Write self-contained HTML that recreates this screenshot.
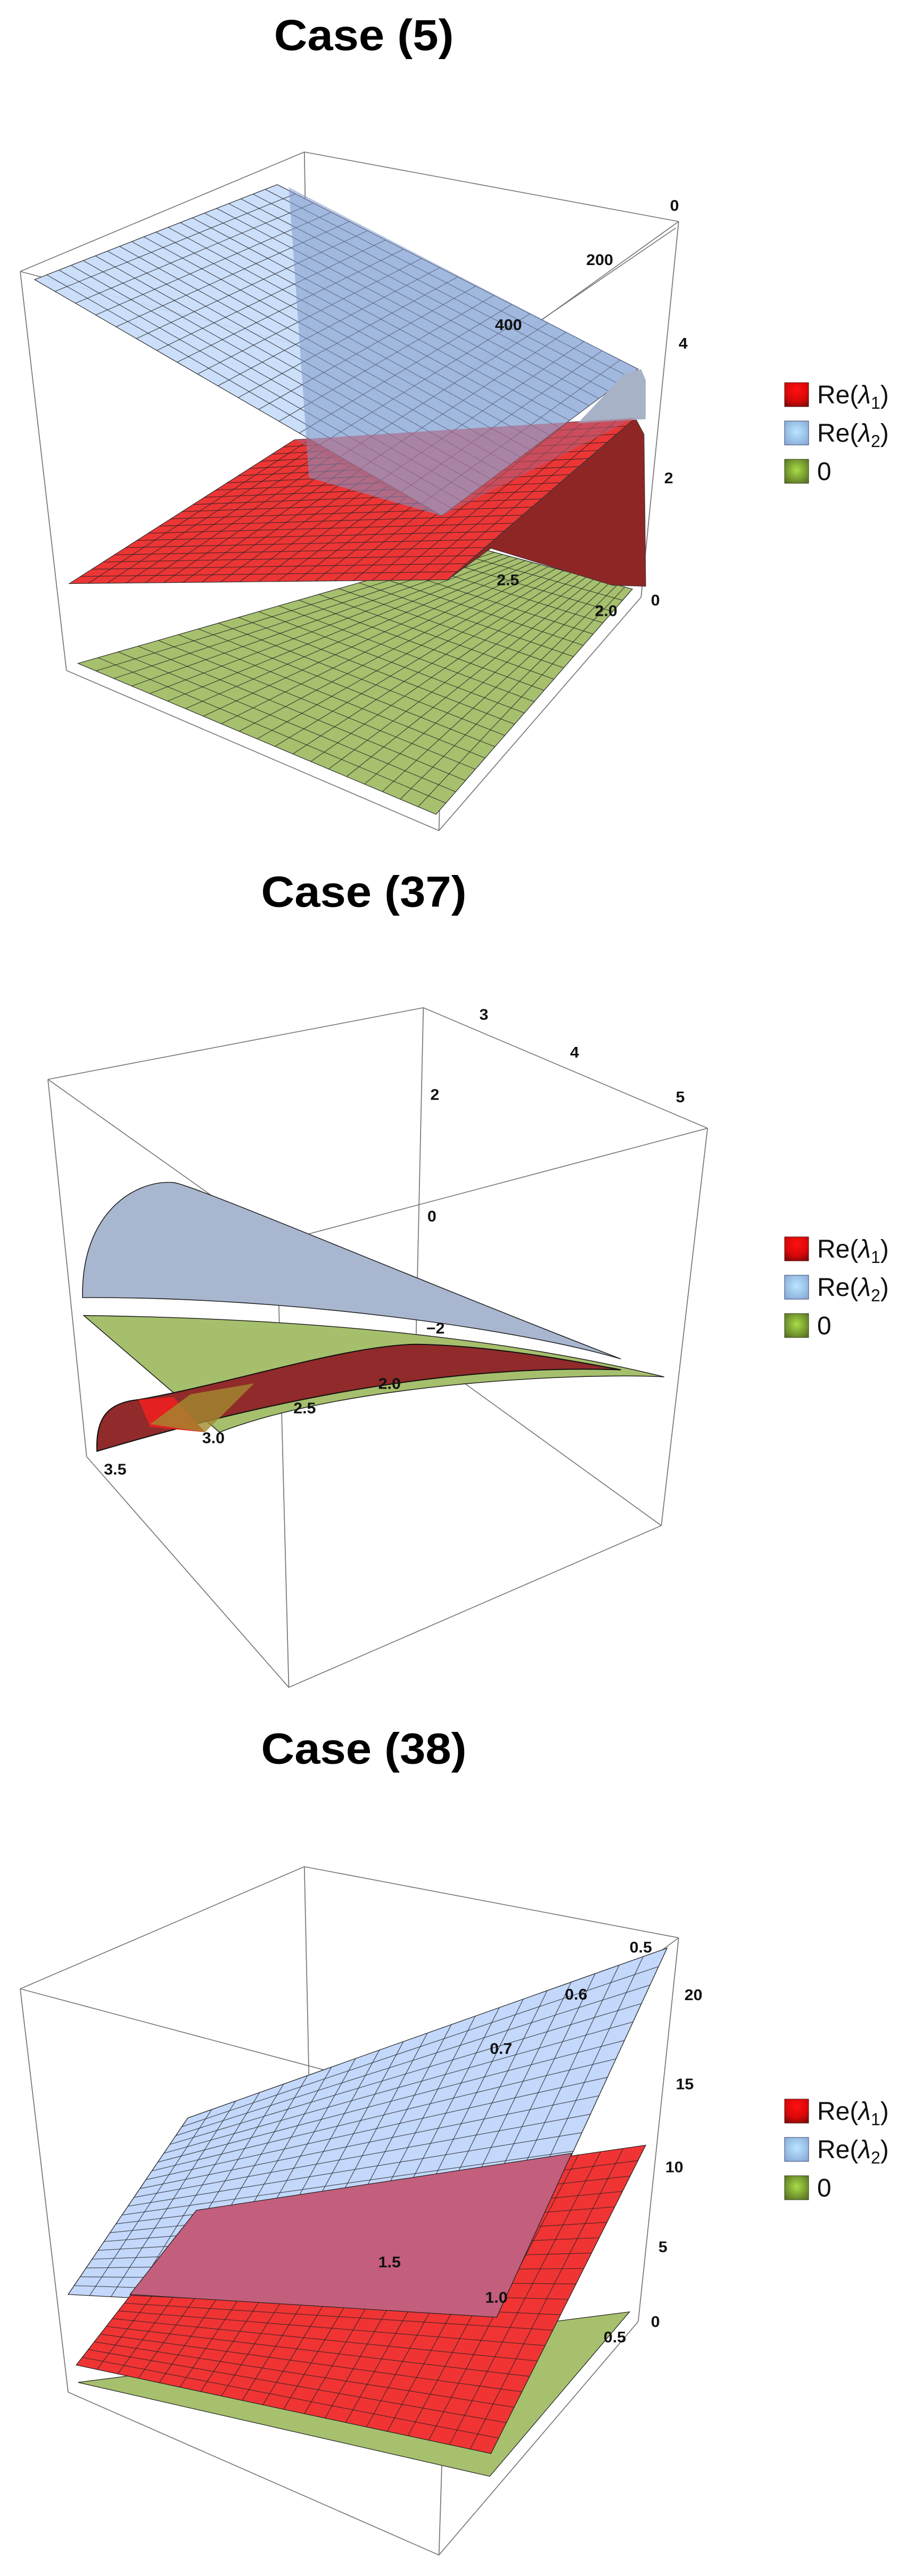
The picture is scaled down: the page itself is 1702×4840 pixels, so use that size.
<!DOCTYPE html>
<html><head><meta charset="utf-8"><style>
html,body{margin:0;padding:0;background:#fff}
svg{display:block}
.t{font-family:"Liberation Sans",sans-serif;font-weight:bold;font-size:80px;text-anchor:middle}
.a{font-family:"Liberation Sans",sans-serif;font-weight:bold;font-size:28px;fill:#111}
.lg{font-family:"Liberation Sans",sans-serif;font-size:48px;fill:#111}
.bx{stroke:#777;stroke-width:1.6;fill:none}
</style></head><body>
<svg id="s" width="1702" height="4840" viewBox="0 0 1702 4840" xmlns="http://www.w3.org/2000/svg">
<defs>
<radialGradient id="lr" cx="0.5" cy="0.3" r="0.8"><stop offset="0" stop-color="#ff1010"/><stop offset="0.6" stop-color="#d80808"/><stop offset="1" stop-color="#7a0a0a"/></radialGradient>
<radialGradient id="lb" cx="0.5" cy="0.45" r="0.7"><stop offset="0" stop-color="#b8e6ff"/><stop offset="1" stop-color="#86a6d6"/></radialGradient>
<radialGradient id="lgn" cx="0.5" cy="0.45" r="0.7"><stop offset="0" stop-color="#a8dc48"/><stop offset="1" stop-color="#556e20"/></radialGradient>
</defs>

<!-- Legends in actual px -->
<g id="L1">
<rect x="1474" y="719" width="45" height="45" fill="url(#lr)" stroke="#5a1010" stroke-width="1"/>
<text class="lg" x="1535" y="758">Re(<tspan font-style="italic">λ</tspan><tspan font-size="32" dy="10">1</tspan><tspan dy="-10">)</tspan></text>
<rect x="1474" y="791" width="45" height="45" fill="url(#lb)" stroke="#3a4a6a" stroke-width="1"/>
<text class="lg" x="1535" y="830">Re(<tspan font-style="italic">λ</tspan><tspan font-size="32" dy="10">2</tspan><tspan dy="-10">)</tspan></text>
<rect x="1474" y="863" width="45" height="45" fill="url(#lgn)" stroke="#33401a" stroke-width="1"/>
<text class="lg" x="1535" y="902">0</text>
</g>
<use href="#L1" transform="translate(0,1605)"/>
<use href="#L1" transform="translate(0,3225)"/>

<!-- Panel 1 -->
<g transform="scale(1.085,1.02)">
<text class="t" x="630" y="92">Case (5)</text>
<g class="bx">
<polyline points="35,500 527,280 1175,408"/>
<polyline points="35,500 780,710 1175,408"/>
<line x1="35" y1="500" x2="115" y2="1235"/>
<line x1="527" y1="280" x2="537" y2="905"/>
<line x1="780" y1="710" x2="760" y2="1530"/>
<line x1="1175" y1="408" x2="1110" y2="1100"/>
<polyline points="115,1235 760,1530 1110,1100"/>
<line x1="1170" y1="420" x2="785" y2="700"/>
</g>
<polygon id="g1" points="135,1222 830,1010 1095,1085 755,1500" fill="#a6c06e" stroke="#333" stroke-width="1.2"/>
<polygon points="775,1068 1100,770 1115,800 1118,1080 1060,1078 850,1010" fill="#8f2626" stroke="#333" stroke-width="1"/>
<polygon id="r1" points="120,1075 510,810 1100,770 775,1068" fill="#ec3535" stroke="#333" stroke-width="1.2"/>
<polygon id="b1" points="60,515 480,340 1105,680 765,950" fill="#c7dcfb" fill-opacity="0.92" stroke="#333" stroke-width="1.2"/>
<polygon points="500,345 1105,680 765,950 535,880" fill="#7f98c9" fill-opacity="0.55"/>
<polygon points="1080,690 1110,680 1118,700 1118,772 1000,780" fill="#a7b2c6"/>
<polygon points="510,810 1100,770 765,950" fill="#b0607a" fill-opacity="0.55"/>
<text class="a" x="1160" y="388">0</text><text class="a" x="1015" y="488">200</text><text class="a" x="857" y="608">400</text>
<text class="a" x="1175" y="642">4</text><text class="a" x="1150" y="890">2</text><text class="a" x="1127" y="1115">0</text>
<text class="a" x="860" y="1078" fill="#3b4a14">2.5</text><text class="a" x="1030" y="1135" fill="#3b4a14">2.0</text>
</g>

<!-- Panel 2 -->
<g transform="translate(0,1620) scale(1.085,1.02)">
<text class="t" x="630" y="82">Case (37)</text>
<g class="bx">
<polyline points="83,400 733,268 1225,490"/>
<polyline points="83,400 480,700 1225,490"/>
<line x1="83" y1="400" x2="150" y2="1095"/>
<line x1="733" y1="268" x2="720" y2="895"/>
<line x1="480" y1="700" x2="500" y2="1520"/>
<line x1="1225" y1="490" x2="1145" y2="1222"/>
<polyline points="150,1095 500,1520 1145,1222"/>
<line x1="720" y1="895" x2="1145" y2="1222"/>
</g>
<path d="M143,802 C140,650 230,585 300,590 C330,592 700,760 1075,915 C900,860 500,800 143,802 Z" fill="#a8b6cf" stroke="#222" stroke-width="1.5"/>
<path d="M145,835 C500,840 850,870 1150,948 C1000,940 600,960 380,1050 Z" fill="#a6bf6c" stroke="#222" stroke-width="1.5"/>
<path d="M168,1085 C165,1020 190,995 240,990 C400,960 600,890 720,888 C850,890 1000,920 1075,935 C800,925 500,980 168,1085 Z" fill="#912a2a" stroke="#111" stroke-width="2"/>
<polygon points="240,990 300,985 355,1050 260,1040" fill="#e52020"/>
<polygon points="260,1035 355,1050 440,960 330,980" fill="#a28a30" fill-opacity="0.8"/>
<text class="a" x="830" y="290">3</text><text class="a" x="987" y="360">4</text><text class="a" x="1170" y="442">5</text>
<text class="a" x="745" y="438">2</text><text class="a" x="740" y="662">0</text><text class="a" x="738" y="868">−2</text>
<text class="a" x="655" y="970" fill="#5a0c0c">2.0</text><text class="a" x="508" y="1015">2.5</text><text class="a" x="350" y="1070">3.0</text><text class="a" x="180" y="1128">3.5</text>
</g>

<!-- Panel 3 -->
<g transform="translate(0,3240) scale(1.085,1.02)">
<text class="t" x="630" y="72">Case (38)</text>
<g class="bx">
<polyline points="35,487 527,262 1175,393"/>
<polyline points="35,487 785,700 1175,393"/>
<line x1="35" y1="487" x2="118" y2="1230"/>
<line x1="527" y1="262" x2="540" y2="900"/>
<line x1="785" y1="700" x2="760" y2="1530"/>
<line x1="1175" y1="393" x2="1105" y2="1100"/>
<polyline points="118,1230 760,1530 1105,1100"/>
</g>
<polygon id="g3" points="135,1212 1090,1082 848,1385" fill="#a6c06e" stroke="#222" stroke-width="1.2"/>
<polygon id="b3" points="118,1050 325,725 1155,412 860,1092" fill="#c3d8fb" stroke="#222" stroke-width="1.2"/>
<polygon id="r3" points="132,1180 340,895 1118,775 850,1343" fill="#f03434" stroke="#222" stroke-width="1.2"/>
<polygon points="225,1050 340,895 990,790 860,1092" fill="#c35e7c" stroke="#222" stroke-width="1.2"/>
<text class="a" x="1090" y="420">0.5</text><text class="a" x="978" y="507">0.6</text><text class="a" x="848" y="607">0.7</text>
<text class="a" x="1185" y="508">20</text><text class="a" x="1170" y="672">15</text><text class="a" x="1152" y="825">10</text>
<text class="a" x="1140" y="972">5</text><text class="a" x="1127" y="1110">0</text><text class="a" x="1045" y="1138" fill="#3b4a14">0.5</text>
<text class="a" x="840" y="1065" fill="#7a2a3a">1.0</text><text class="a" x="655" y="1000" fill="#7a2a3a">1.5</text>
</g>
</svg>
<script>
(function(){
var NS="http://www.w3.org/2000/svg";
function grid(id,n){
 var el=document.getElementById(id); if(!el||!el.points) return;
 var p=el.points; if(p.numberOfItems<4) return;
 var a=p.getItem(0),b=p.getItem(1),c=p.getItem(2),d=p.getItem(3);
 var g=document.createElementNS(NS,"g");
 g.setAttribute("stroke","#222");g.setAttribute("stroke-width","1.2");g.setAttribute("stroke-opacity","0.75");
 function L(x1,y1,x2,y2){var l=document.createElementNS(NS,"line");l.setAttribute("x1",x1);l.setAttribute("y1",y1);l.setAttribute("x2",x2);l.setAttribute("y2",y2);g.appendChild(l);}
 for(var i=1;i<n;i++){var t=i/n;
  L(a.x+(b.x-a.x)*t,a.y+(b.y-a.y)*t,d.x+(c.x-d.x)*t,d.y+(c.y-d.y)*t);
  L(a.x+(d.x-a.x)*t,a.y+(d.y-a.y)*t,b.x+(c.x-b.x)*t,b.y+(c.y-b.y)*t);}
 el.parentNode.insertBefore(g,el.nextSibling);
}
["g1","r1","b1","b3","r3"].forEach(function(id){grid(id,20);});
})();
</script>
</body></html>
